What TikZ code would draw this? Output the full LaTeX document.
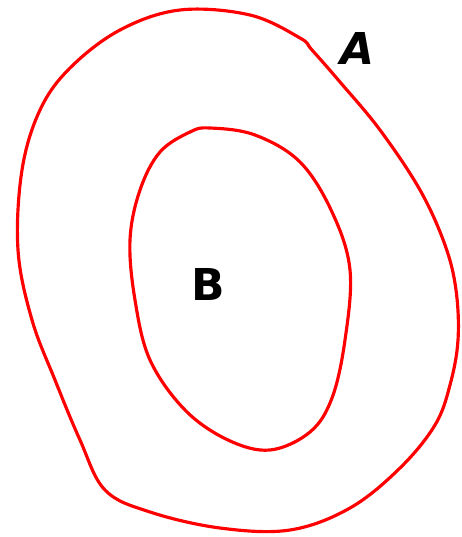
\documentclass[tikz,border=0pt]{standalone}
\usepackage{fontspec}
\setsansfont{DejaVu Sans}
\begin{document}
\begin{tikzpicture}[x=0.02cm,y=-0.02cm,
  loop/.style={draw=red, line width=1.8pt, line join=round},
  lbl/.style={font=\sffamily\bfseries\fontsize{25}{30}\selectfont}]
\useasboundingbox (0,0) rectangle (461,537);
\draw[loop] plot[smooth cycle, tension=0.6] coordinates {
 (180,10) (250,15) (300,38) (312,50) (340,82) (380,130) (420,190) (445,245)
 (456,290) (458,340) (450,385) (435,425) (400,468) (350,508) (290,530)
 (220,528) (150,512) (105,490) (80,440) (55,380) (32,320) (18,250)
 (22,170) (40,110) (70,68) (120,30)};
\draw[loop] plot[smooth cycle, tension=0.6] coordinates {
 (190,132) (210,128) (255,135) (300,162) (332,212) (350,270) (345,340)
 (332,398) (310,432) (270,450) (228,440) (185,410) (150,360) (135,300)
 (130,240) (140,190) (160,152)};
\node[lbl, font=\sffamily\bfseries\itshape\fontsize{25}{30}\selectfont] (A) at (357,48) {A};
\node[lbl] (B) at (208,284) {B};
\end{tikzpicture}
\end{document}
